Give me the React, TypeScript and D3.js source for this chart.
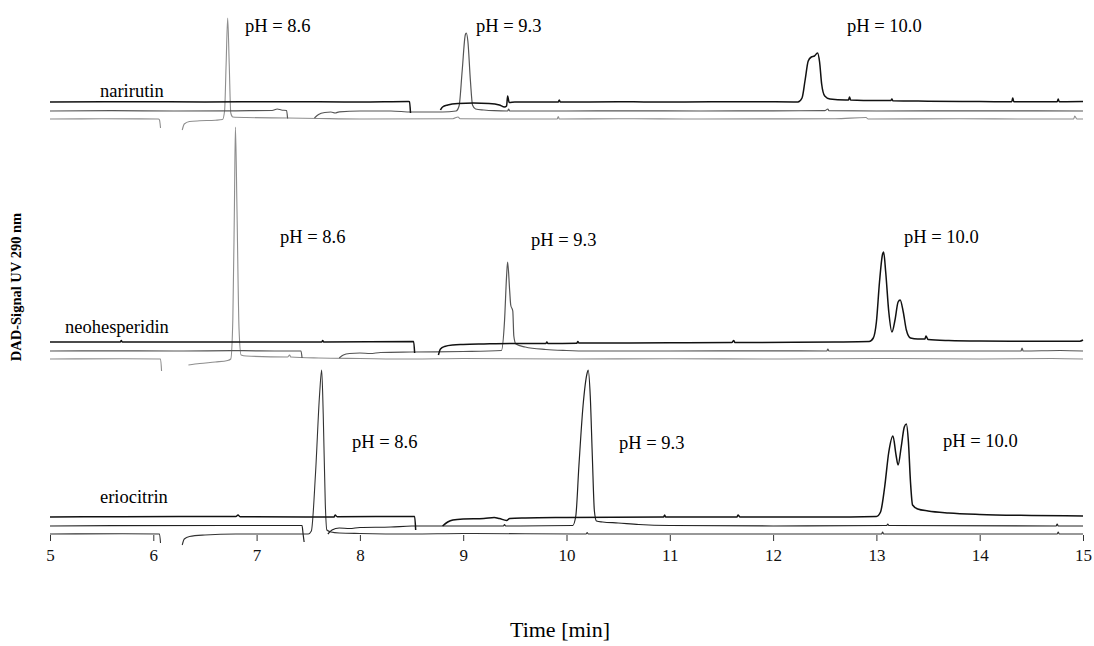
import React, { useEffect, useRef } from 'react';
import * as d3 from 'd3';

type Pt = [number, number | null];

// time axis [min]
const timeTicks = [5, 6, 7, 8, 9, 10, 11, 12, 13, 14, 15];
const compounds = ['narirutin', 'neohesperidin', 'eriocitrin'];
const phLabels = ['pH = 8.6', 'pH = 9.3', 'pH = 10.0'];

// signal traces, [time, signal above own baseline], null = off scale
const narirutin86: Pt[] = [
  [5, 0], [5.5, 0.2], [6.05, 0], [6.06, -1], [6.07, -9], [6.08, null], [6.28, -11], [6.3, -5],
  [6.35, -2.5], [6.45, -1.8], [6.6, -1.2], [6.67, -0.5], [6.69, 8], [6.705, 55], [6.72, 101],
  [6.735, 55], [6.75, 6], [6.77, 2], [6.9, 1.5], [7.3, 1], [7.6, 0.5], [8.0, 0], [8.9, 0.3],
  [8.95, 2], [8.97, 0.3], [9.5, 0], [9.91, 0], [9.92, 2.5], [9.93, 0], [10.5, 0.3], [11.3, 0],
  [12.6, 0.3], [12.9, 1.5], [12.92, 0], [13.8, 0.2], [14.5, 0], [14.91, 0], [14.92, 3], [14.94, 0], [15, 0],
];
const narirutin93: Pt[] = [
  [5, 0], [5.6, 0.3], [6.2, 0], [6.8, 0.2], [7.15, 0.5], [7.2, 2], [7.24, 1], [7.29, 0.5], [7.3, -7.5],
  [7.31, null], [7.56, -7], [7.6, -3.5], [7.66, -1.5], [7.72, -1], [7.76, -2], [7.8, -0.8], [8.0, 0],
  [8.3, 0], [8.5, -1], [8.8, -1], [8.93, 0], [8.96, 5], [8.99, 40], [9.02, 76], [9.03, 78], [9.045, 70],
  [9.07, 30], [9.09, 6], [9.12, 2], [9.2, 1], [9.3, 0.3], [9.43, 0], [9.44, 2], [9.45, 0], [10.0, 0],
  [10.6, 0.2], [11.3, 0], [12.0, 0.2], [12.5, 0.3], [12.53, 2], [12.54, 0.3], [13.0, 0], [14.0, 0.2], [15, 0],
];
const narirutin100: Pt[] = [
  [5, 0], [5.8, 0.3], [6.5, 0], [7.2, 0.3], [8.0, 0], [8.47, 0.5], [8.48, 0.3], [8.49, -11], [8.5, null],
  [8.78, -8], [8.8, -5], [8.85, -3], [8.95, -1.5], [9.1, -1], [9.25, -1.5], [9.35, -3], [9.4, -5],
  [9.42, -4], [9.43, 6], [9.445, -0.5], [9.5, 0], [9.92, 0], [9.93, 2], [9.94, 0], [10.5, 0.2], [11.0, 0],
  [11.8, 0.3], [12.24, 0], [12.28, 4], [12.31, 22], [12.34, 41], [12.37, 45], [12.4, 46], [12.43, 49],
  [12.45, 40], [12.47, 18], [12.5, 6], [12.55, 3], [12.7, 2], [12.73, 2], [12.74, 5], [12.75, 2],
  [13.0, 1.5], [13.14, 1.5], [13.15, 3], [13.16, 1.2], [13.5, 0.8], [14.0, 0.4], [14.31, 0.3], [14.32, 4],
  [14.33, 0.3], [14.75, 0.3], [14.76, 3], [14.77, 0.3], [15, 0.5],
];

const neohesperidin86: Pt[] = [
  [5, 0], [5.7, 0.3], [6.07, 0], [6.08, -12], [6.09, null], [6.34, -6], [6.45, -4.5], [6.6, -3],
  [6.72, -1.5], [6.75, 0], [6.77, 40], [6.785, 150], [6.795, 232], [6.81, 150], [6.83, 30], [6.85, 4],
  [6.9, 3], [7.3, 2], [7.32, 4], [7.33, 2], [7.6, 1], [8.0, 0.5], [8.5, 0], [9.0, 0.5], [10.0, 0],
  [11.0, 0.3], [12.0, 0], [13.1, 0.5], [14.0, 0], [14.7, 0.5], [15, 0],
];
const neohesperidin93: Pt[] = [
  [5, 0], [5.5, 0.2], [6.2, 0], [6.85, 0.3], [7.2, 0], [7.43, 0], [7.44, -7], [7.45, null], [7.8, -7],
  [7.84, -4], [7.9, -2.5], [8.0, -2], [8.1, -2.5], [8.2, -1.5], [8.5, -1], [9.0, -0.5], [9.37, 0.5],
  [9.4, 30], [9.42, 75], [9.43, 89], [9.45, 60], [9.46, 46], [9.48, 40], [9.49, 15], [9.51, 7], [9.6, 4],
  [9.8, 1.5], [10.0, 0.5], [10.2, 0], [11.0, 0], [12.0, 0.2], [12.52, 0], [12.53, 2], [12.54, 0],
  [14.4, 0], [14.41, 3], [14.42, 0], [14.78, 0.5], [15, 0],
];
const neohesperidin100: Pt[] = [
  [5, 0], [5.68, 0], [5.69, 1.5], [5.7, 0], [6.5, 0], [7.63, 0], [7.64, 1.5], [7.65, 0], [8.52, 0.5],
  [8.53, -11], [8.54, null], [8.76, -13], [8.78, -7], [8.82, -4.5], [8.9, -3], [9.0, -2.5], [9.2, -2],
  [9.5, -1.5], [9.8, -1.5], [9.81, 0], [9.82, -1.5], [10.1, -1.2], [10.11, 0.5], [10.12, -1], [11.0, -0.8],
  [11.6, -0.5], [11.62, 1.5], [11.63, -0.5], [12.2, -0.3], [12.6, 0], [12.93, 0.5], [12.97, 4], [13.0, 20],
  [13.03, 60], [13.06, 88], [13.07, 90], [13.09, 70], [13.12, 30], [13.15, 10], [13.18, 22], [13.21, 40],
  [13.23, 42], [13.26, 30], [13.29, 12], [13.33, 4], [13.4, 3], [13.47, 3], [13.48, 6], [13.5, 2.5],
  [13.7, 1.5], [14.0, 1], [14.5, 0.8], [14.97, 0.8], [15, 2],
];

const eriocitrin86: Pt[] = [
  [5, 0], [5.7, 0.3], [6.06, 0], [6.07, -9], [6.08, null], [6.28, -11], [6.3, -5], [6.35, -2.5],
  [6.5, -1], [6.8, 0], [7.5, 0], [7.53, 3], [7.57, 60], [7.61, 140], [7.63, 164], [7.645, 120],
  [7.665, 30], [7.68, 4], [7.72, 2], [7.8, 1], [8.0, 0.5], [8.5, 0], [9.0, 0.5], [10.19, 0], [10.2, 1.5],
  [10.21, 0], [11.0, 0], [13.05, 0], [13.06, 2], [13.07, 0], [14.75, 0], [14.76, 2], [14.77, 0], [15, 0],
];
const eriocitrin93: Pt[] = [
  [5, 0], [5.6, 0.3], [6.8, 0.5], [7.44, 0.5], [7.45, -8], [7.46, -16], [7.47, null], [7.69, -8],
  [7.73, -4], [7.8, -2], [7.9, -2.5], [8.0, -1.5], [8.3, -1], [8.5, 0], [9.39, 0], [9.4, 1.5], [9.41, 0],
  [10.06, 0.5], [10.09, 10], [10.12, 60], [10.16, 120], [10.2, 153], [10.21, 156], [10.23, 130],
  [10.25, 70], [10.27, 15], [10.29, 5], [10.35, 4], [10.5, 3], [10.7, 1.5], [11.0, 0.5], [12.0, 0],
  [13.1, 0.5], [13.11, 2], [13.12, 0.5], [14.74, 0], [14.75, 2], [14.76, 0], [15, 0],
];
const eriocitrin100: Pt[] = [
  [5, 0], [5.7, 0.3], [6.8, 0.5], [6.82, 2], [6.84, 0.3], [7.5, 0], [7.75, 0], [7.76, 2], [7.78, 0.3],
  [8.53, 0.5], [8.54, -13], [8.55, null], [8.8, -9], [8.85, -5], [8.9, -3], [9.0, -2], [9.2, -1.5],
  [9.3, -0.5], [9.35, -1.5], [9.42, -3.5], [9.45, -1.5], [9.6, -1], [10.0, -0.5], [10.94, 0], [10.95, 2],
  [10.96, 0], [11.65, 0], [11.66, 2], [11.68, 0], [12.5, 0], [13.0, 0.5], [13.04, 5], [13.08, 30],
  [13.12, 65], [13.16, 81], [13.19, 62], [13.21, 52], [13.24, 70], [13.27, 90], [13.29, 93], [13.31, 75],
  [13.33, 35], [13.35, 12], [13.4, 8], [13.5, 6], [13.7, 4], [14.0, 2.5], [14.5, 1.5], [15, 1],
];

const panels: Pt[][][] = [
  [narirutin86, narirutin93, narirutin100],
  [neohesperidin86, neohesperidin93, neohesperidin100],
  [eriocitrin86, eriocitrin93, eriocitrin100],
];

// layout
const W = 1094;
const H = 646;
const panelBase = [119, 359, 534];
const traceOffset = [0, 8, 17];
// scanned figure: top two panels print the pH 8.6 / 9.3 runs in grey, bottom panel mostly black
const traceColor = [
  ['#8e8e8e', '#555', '#111'],
  ['#8e8e8e', '#555', '#111'],
  ['#333', '#222', '#111'],
];
const traceWidth = [1.1, 1.2, 1.5];
const nameAt = [[100, 97], [65, 333], [100, 503]];
const phAt = [
  [[245, 32], [476, 32], [847, 32]],
  [[280, 243], [531, 246], [904, 243]],
  [[352, 448], [619, 449], [943, 447]],
];
const serif = '"Liberation Serif", "Times New Roman", serif';

export default function App() {
  const ref = useRef<SVGSVGElement>(null);

  useEffect(() => {
    const svg = d3.select(ref.current);
    svg.selectAll('*').remove();

    const x = d3.scaleLinear().domain([5, 15]).range([50, 1083]);

    panels.forEach((traces, p) => {
      const y = d3.scaleLinear().domain([0, 250]).range([panelBase[p], panelBase[p] - 250]);
      const g = svg.append('g');

      traces.forEach((data, i) => {
        const line = d3
          .line<Pt>()
          .defined((d) => d[1] != null)
          .x((d) => x(d[0]))
          .y((d) => y((d[1] as number) + traceOffset[i]))
          .curve(d3.curveMonotoneX);
        g.append('path')
          .attr('d', line(data))
          .attr('fill', 'none')
          .attr('stroke', traceColor[p][i])
          .attr('stroke-width', traceWidth[i])
          .attr('stroke-linejoin', 'round');
      });

      g.append('text')
        .attr('x', nameAt[p][0])
        .attr('y', nameAt[p][1])
        .attr('font-family', serif)
        .attr('font-size', 18.5)
        .text(compounds[p]);

      phLabels.forEach((lab, i) => {
        g.append('text')
          .attr('x', phAt[p][i][0])
          .attr('y', phAt[p][i][1])
          .attr('font-family', serif)
          .attr('font-size', 18.5)
          .text(lab);
      });
    });

    const axis = svg
      .append('g')
      .attr('transform', 'translate(0,' + (panelBase[2] + 1) + ')')
      .call(d3.axisBottom(x).tickValues(timeTicks).tickSize(6).tickPadding(8).tickFormat(d3.format('d')));
    axis.select('.domain').remove();
    axis.selectAll('line').attr('stroke', '#333');
    axis.selectAll('text').attr('font-family', serif).attr('font-size', 17).attr('fill', '#111');

    svg
      .append('text')
      .attr('x', 560)
      .attr('y', 637)
      .attr('text-anchor', 'middle')
      .attr('font-family', serif)
      .attr('font-size', 22)
      .text('Time [min]');

    svg
      .append('text')
      .attr('transform', 'translate(21,287) rotate(-90)')
      .attr('text-anchor', 'middle')
      .attr('font-family', serif)
      .attr('font-weight', 'bold')
      .attr('font-size', 14.5)
      .text('DAD-Signal UV 290 nm');
  }, []);

  return (
    <div style={{ position: 'absolute', left: 0, top: 0 }}>
      <svg ref={ref} width={W} height={H} style={{ display: 'block', background: '#fff' }} />
    </div>
  );
}
